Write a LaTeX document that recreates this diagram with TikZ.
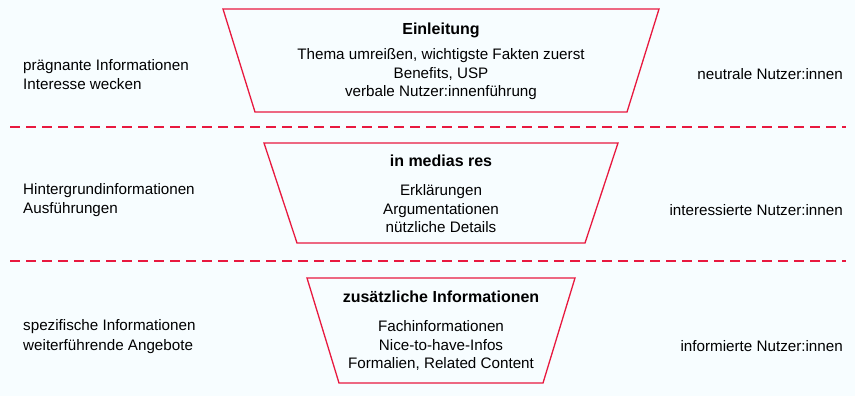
\documentclass[tikz,border=0pt]{standalone}
\usepackage{fontspec}
\setmainfont{Liberation Sans}
\definecolor{bg}{HTML}{F7FDFF}
\definecolor{fred}{HTML}{E8193F}
\tikzset{
  funnel/.style={draw=fred, line width=1.3pt, line join=miter},
  sep/.style={draw=fred, line width=1.1pt, dash pattern=on 10pt off 6pt},
  title/.style={font=\fontsize{16}{18.5}\selectfont\bfseries, inner sep=0pt},
  body/.style={font=\fontsize{15.2}{18.5}\selectfont, align=center, inner sep=0pt},
  side/.style={font=\fontsize{15.2}{19.5}\selectfont, align=left, inner sep=0pt},
}
\begin{document}
\begin{tikzpicture}[x=1pt,y=-1pt]
\fill[bg] (0,0) rectangle (855,396);
\useasboundingbox (0,0) rectangle (855,396);
% funnels
\draw[funnel] (223,9) -- (659,9) -- (627,112) -- (255,112) -- cycle;
\draw[funnel] (264,143) -- (618,143) -- (585,243) -- (297,243) -- cycle;
\draw[funnel] (307,278) -- (575,278) -- (543,383) -- (339,383) -- cycle;
% separators
\coordinate (s1l) at (10,127); \coordinate (s1r) at (846,127);
\coordinate (s2l) at (10,261); \coordinate (s2r) at (846,261);
\draw[sep] (s1l) -- (s1r);
\draw[sep] (s2l) -- (s2r);
% texts
\node[title] (t1) at (441,30) {Einleitung};
\node[body] (b1) at (441,74.5) {Thema umreißen, wichtigste Fakten zuerst\\Benefits, USP\\verbale Nutzer:innenführung};
\node[title] (t2) at (441,161) {in medias res};
\node[body] (b2) at (441,209) {Erklärungen\\Argumentationen\\nützliche Details};
\node[title] (t3) at (441,297) {zusätzliche Informationen};
\node[body] (b3) at (441,345.5) {Fachinformationen\\Nice-to-have-Infos\\Formalien, Related Content};
\node[side, anchor=west] (l1) at (23,74.5) {prägnante Informationen\\Interesse wecken};
\node[side, anchor=west] (l2) at (23,200) {Hintergrundinformationen\\Ausführungen};
\node[side, anchor=west] (l3) at (23,336.5) {spezifische Informationen\\weiterführende Angebote};
\node[side, anchor=east] (r1) at (843,74) {neutrale Nutzer:innen};
\node[side, anchor=east] (r2) at (843,210) {interessierte Nutzer:innen};
\node[side, anchor=east] (r3) at (843,346) {informierte Nutzer:innen};
\end{tikzpicture}
\end{document}
